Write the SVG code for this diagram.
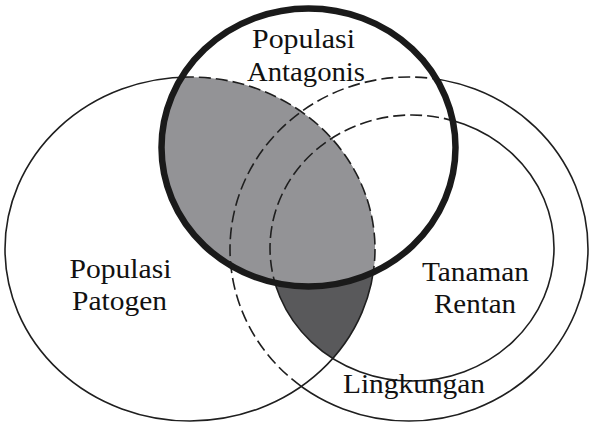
<svg xmlns="http://www.w3.org/2000/svg" width="589" height="423" viewBox="0 0 589 423">
<style>
.thin{fill:none;stroke:#1f1f1f;stroke-width:1.6}
.dash{fill:none;stroke:#1f1f1f;stroke-width:1.6;stroke-dasharray:12 5}
.thick{fill:none;stroke:#1a1a1a;stroke-width:6.5}
.lbl{font-family:'Liberation Serif',serif;font-size:28px;fill:#111;text-anchor:middle}
</style>
<defs>
<clipPath id="inA"><ellipse cx="308.5" cy="147.5" rx="147" ry="139"/></clipPath>
<clipPath id="inP"><ellipse cx="190" cy="249" rx="185" ry="172"/></clipPath>
<clipPath id="outA"><path clip-rule="evenodd" d="M-10 -10H600V440H-10Z M161.5 147.5a147 139 0 1 0 294 0a147 139 0 1 0 -294 0Z"/></clipPath>
<clipPath id="outP"><path clip-rule="evenodd" d="M-10 -10H600V440H-10Z M5 249a185 172 0 1 0 370 0a185 172 0 1 0 -370 0Z"/></clipPath>
<clipPath id="inPA"><ellipse cx="308.5" cy="147.5" rx="147" ry="139"/><ellipse cx="190" cy="249" rx="185" ry="172"/></clipPath>
</defs>
<rect width="589" height="423" fill="#fff"/>
<g id="regions">
<ellipse cx="412" cy="248" rx="142" ry="133" fill="#59595b" clip-path="url(#inP)"/>
<ellipse cx="308.5" cy="147.5" rx="147" ry="139" fill="#939396" clip-path="url(#inP)"/>
</g>
<g id="node-patogen">
<ellipse class="thin" cx="190" cy="249" rx="185" ry="172" clip-path="url(#outA)"/>
<ellipse class="dash" cx="190" cy="249" rx="185" ry="172" clip-path="url(#inA)"/>
<text class="lbl" x="120.5" y="278" textLength="102" lengthAdjust="spacingAndGlyphs">Populasi</text>
<text class="lbl" x="119.5" y="310" textLength="95" lengthAdjust="spacingAndGlyphs">Patogen</text>
</g>
<g id="node-tanaman">
<ellipse class="thin" cx="412" cy="248" rx="142" ry="133" clip-path="url(#outA)"/>
<ellipse class="dash" cx="412" cy="248" rx="142" ry="133" clip-path="url(#inA)"/>
<text class="lbl" x="475.5" y="281" textLength="107" lengthAdjust="spacingAndGlyphs">Tanaman</text>
<text class="lbl" x="475" y="312.5" textLength="82" lengthAdjust="spacingAndGlyphs">Rentan</text>
</g>
<g id="node-lingkungan">
<g clip-path="url(#outP)"><ellipse class="thin" cx="409" cy="249" rx="179" ry="172" clip-path="url(#outA)"/></g>
<ellipse class="dash" cx="409" cy="249" rx="179" ry="172" clip-path="url(#inPA)"/>
<text class="lbl" x="414" y="393" textLength="142" lengthAdjust="spacingAndGlyphs">Lingkungan</text>
</g>
<g id="node-antagonis">
<ellipse class="thick" cx="308.5" cy="147.5" rx="147" ry="139"/>
<text class="lbl" x="303.5" y="48" textLength="103" lengthAdjust="spacingAndGlyphs">Populasi</text>
<text class="lbl" x="306" y="80.5" textLength="118" lengthAdjust="spacingAndGlyphs">Antagonis</text>
</g>
<g id="connectors"/>
</svg>
